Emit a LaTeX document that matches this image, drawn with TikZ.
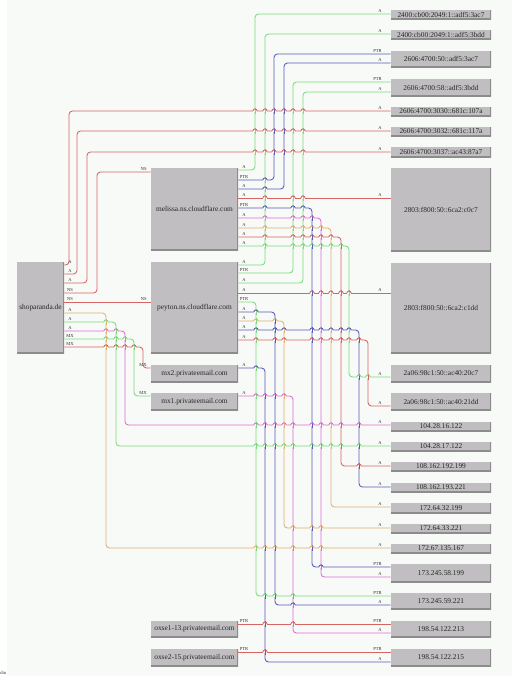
\documentclass[tikz,border=0pt]{standalone}
\usepackage{fontspec}
\setmainfont{Liberation Serif}
\usetikzlibrary{positioning}

\definecolor{bgcol}{RGB}{248,250,248}
\definecolor{boxgray}{RGB}{192,190,192}
\definecolor{boxedge}{RGB}{140,140,140}
\definecolor{cG}{RGB}{120,220,120}
\definecolor{cR}{RGB}{215,100,100}
\definecolor{cB}{RGB}{90,90,185}
\definecolor{cP}{RGB}{220,110,210}
\definecolor{cO}{RGB}{228,176,110}

\tikzset{
  host/.style={fill=boxgray, inner sep=0pt, text=black!85,
    font=\fontsize{4.2}{5}\selectfont,
    path picture={\draw[boxedge, line width=1pt]
      (path picture bounding box.south west) -- (path picture bounding box.south east)
      -- (path picture bounding box.north east);}},
  wire/.style={line width=0.5pt, rounded corners=2pt},
  lbl/.style={inner sep=0pt, text=black!80, font=\fontsize{2.6}{3}\selectfont},
}

% small bump where a horizontal run jumps a vertical one
\newcommand\hop[4]{%
  \draw[bgcol, line width=1.4pt] ({#1-2.1},#2) -- ({#1+2.1},#2);
  \draw[#4, line width=0.5pt] (#1,{#2-3}) -- (#1,{#2+3});
  \draw[#3, line width=0.5pt] ({#1-2.1},#2) arc[start angle=180, end angle=0, radius=1.2pt];
}

% name/left/top/right/bottom/text
\def\hosts{%
shop/17/262/64/353/shoparanda.de,
mel/151/168/238/250/melissa.ns.cloudflare.com,
pey/151/262/238/353/peyton.ns.cloudflare.com,
mxb/151/365/238/382/mx2.privateemail.com,
mxa/151/393/238/410/mx1.privateemail.com,
oxa/151/621/238/637/oxse1-13.privateemail.com,
oxb/151/649/238/666/oxse2-15.privateemail.com,
r1/391/10/491/19/2400:cb00:2049:1::adf5:3ac7,
r2/391/30/491/39/2400:cb00:2049:1::adf5:3bdd,
r3/391/51/491/67/2606:4700:50::adf5:3ac7,
r4/391/79/491/96/2606:4700:58::adf5:3bdd,
r5/391/107/491/116/2606:4700:3030::681c:107a,
r6/391/127/491/136/2606:4700:3032::681c:117a,
r7/391/147/491/157/2606:4700:3037::ac43:87a7,
r8/391/168/491/251/2803:f800:50::6ca2:c0c7,
r9/391/263/491/353/2803:f800:50::6ca2:c1dd,
r10/391/365/491/382/2a06:98c1:50::ac40:20c7,
r11/391/393/491/410/2a06:98c1:50::ac40:21dd,
r12/391/422/491/431/104.28.16.122,
r13/391/442/491/451/104.28.17.122,
r14/391/462/491/471/108.162.192.199,
r15/391/483/491/492/108.162.193.221,
r16/391/503/491/513/172.64.32.199,
r17/391/524/491/533/172.64.33.221,
r18/391/544/491/553/172.67.135.167,
r19/391/564/491/582/173.245.58.199,
r20/391/593/491/609/173.245.59.221,
r21/391/621/491/637/198.54.122.213,
r22/391/649/491/666/198.54.122.215}

% source/y/turn x/target/y/colour/tail label/head label
\def\edges{%
shop/265/69/r5/111/cR/A/A,
shop/274/77/r6/131/cR/A/A,
shop/283/87/r7/152/cR/A/A,
shop/293/97/mel/172/cR/NS/NS,
shop/302/0/pey/302/cR/NS/NS,
shop/313/106/r18/548/cO/A/A,
shop/322/116/r13/446/cG/A/A,
shop/331/125/r12/425/cP/A/A,
shop/339/134/mxa/396/cG/MX/MX,
shop/347/143/mxb/368/cR/MX/MX,
mel/170/255/r1/14/cG/A/A,
mel/180/274/r3/54/cB/PTR/PTR,
mel/189/284/r3/63/cB/A/A,
mel/198/0/r8/198/cR/A/A,
mel/208/312/r19/567/cB/PTR/PTR,
mel/218/321/r19/577/cP/A/A,
mel/228/331/r16/507/cO/A/A,
mel/237/341/r14/466/cR/A/A,
mel/246/349/r10/377/cG/A/A,
pey/265/265/r2/34/cG/A/A,
pey/273/293/r4/82/cG/PTR/PTR,
pey/283/303/r4/92/cG/A/A,
pey/293/0/r9/293/cR/A/A,
pey/302/256/r20/596/cG/PTR/PTR,
pey/312/275/r20/605/cB/A/A,
pey/321/284/r17/528/cO/A/A,
pey/330/359/r15/487/cB/A/A,
pey/340/368/r11/406/cR/A/A,
mxb/368/265/r22/662/cB/A/A,
mxa/396/293/r21/633/cP/A/A,
oxa/624/0/r21/624/cR/PTR/PTR,
oxb/652/0/r22/652/cR/PTR/PTR}

\begin{document}
\begin{tikzpicture}[x=0.02cm, y=-0.02cm]
    \useasboundingbox (0,0) rectangle (512,676);
    \fill[white] (0,0) rectangle (512,676);
    \fill[bgcol] (7,0) rectangle (512,676);

    \foreach \n/\xa/\ya/\xb/\yb/\txt in \hosts {
        \node[host, minimum width={(\xb-\xa)*0.02cm}, minimum height={(\yb-\ya)*0.02cm}]
            (\n) at ({(\xa+\xb)/2},{(\ya+\yb)/2}) {\txt};
        \expandafter\xdef\csname xl\n\endcsname{\xa}
        \expandafter\xdef\csname xr\n\endcsname{\xb}
    }

    \foreach \src/\sy/\xv/\tgt/\ty/\col/\tl/\hl in \edges {
        \edef\xs{\csname xr\src\endcsname}
        \edef\xt{\csname xl\tgt\endcsname}
        \ifnum\xv=0
            \draw[wire, \col] (\src.east |- 0,\sy) -- (\tgt.west |- 0,\ty);
        \else
            \draw[wire, \col] (\src.east |- 0,\sy) -| (\xv,\ty) -- (\tgt.west |- 0,\ty);
        \fi
        \node[lbl, anchor=south] at ({\xs+6},{\sy-1.2}) {\tl};
        \pgfmathsetmacro\hx{\xt<200 ? \xt-4 : \xt-9}
        \node[lbl, anchor=south east] at (\hx,{\ty-1.2}) {\hl};
    }

    % hops over the vertical runs
    \foreach \src/\sy/\xv/\tgt/\ty/\col/\tl/\hl in \edges {
        \edef\xs{\csname xr\src\endcsname}
        \edef\xt{\csname xl\tgt\endcsname}
        \ifnum\xv=0 \edef\xa{\xt}\else \edef\xa{\xv}\fi
        \foreach \vs/\vsy/\vx/\vt/\vty/\vcol/\va/\vb in \edges {
            \ifnum\vx>0
                \pgfmathsetmacro\ylo{min(\vsy,\vty)}
                \pgfmathsetmacro\yhi{max(\vsy,\vty)}
                \pgfmathparse{(\vx>\xs+1)&&(\vx<\xa-1)&&(\sy>\ylo)&&(\sy<\yhi) ? 1 : 0}
                \ifdim\pgfmathresult pt>0.5pt \hop{\vx}{\sy}{\col}{\vcol}\fi
                \ifnum\xv>0
                    \pgfmathparse{(\vx>\xv+1)&&(\vx<\xt-1)&&(\ty>\ylo)&&(\ty<\yhi) ? 1 : 0}
                    \ifdim\pgfmathresult pt>0.5pt \hop{\vx}{\ty}{\col}{\vcol}\fi
                \fi
            \fi
        }
    }

    \node[lbl, anchor=west] (cut) at (0,673) {din};
\end{tikzpicture}
\end{document}
